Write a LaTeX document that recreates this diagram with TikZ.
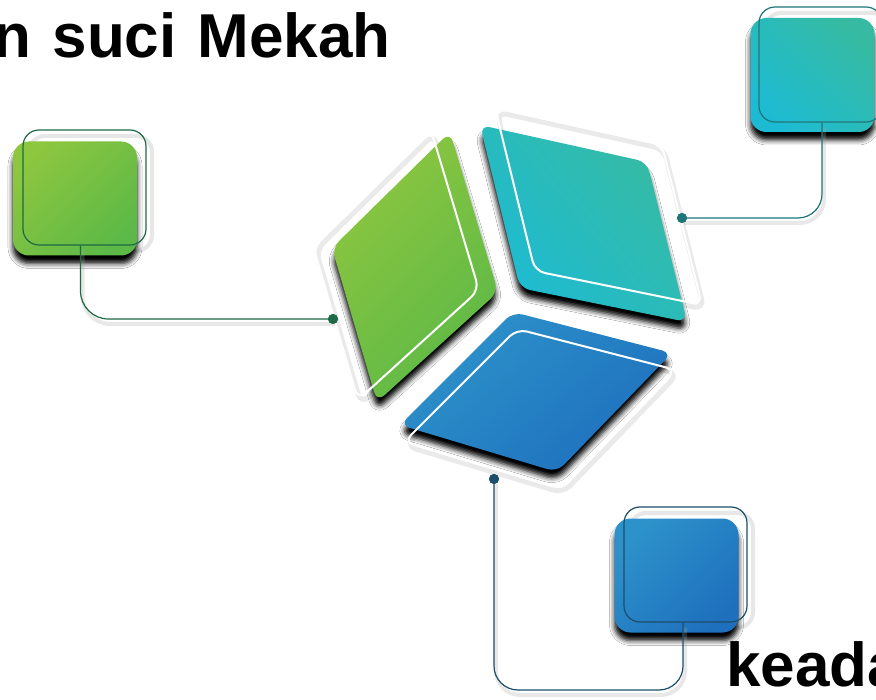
\documentclass[tikz,border=0pt]{standalone}
\usepackage{fontspec}
\setmainfont{Liberation Sans}
\usetikzlibrary{shadows.blur,calc}
\definecolor{greenA}{HTML}{8DC63F}
\definecolor{greenB}{HTML}{5DB947}
\definecolor{tealA}{HTML}{36BBA2}
\definecolor{tealB}{HTML}{1DBBD3}
\definecolor{blueA}{HTML}{2D92CA}
\definecolor{blueB}{HTML}{1E70BD}
\definecolor{gline}{HTML}{1D6A45}
\definecolor{tline}{HTML}{1E7679}
\definecolor{bline}{HTML}{1D4E6C}
\tikzset{
  tileshadow/.style={blur shadow={shadow xshift=0pt, shadow yshift=-8pt, shadow opacity=100, shadow blur radius=5pt}},
  rhomb/.style={rounded corners=10pt, tileshadow},
  glowline/.style={draw=black!40, line width=5pt, opacity=0.2, rounded corners=10pt},
  whiteline/.style={draw=white, line width=2pt, rounded corners=10pt},
  sqfill/.style={rectangle, rounded corners=16pt, minimum width=124pt, minimum height=114pt, inner sep=0pt, tileshadow},
  sqline/.style={rectangle, rounded corners=16pt, draw=#1, line width=1.2pt, minimum width=123pt, minimum height=115pt, inner sep=0pt},
  sqglow/.style={rectangle, rounded corners=16pt, draw=black!30, line width=4pt, opacity=0.3, minimum width=123pt, minimum height=115pt, inner sep=0pt},
  conn/.style={draw=#1, line width=1.2pt},
  connshadow/.style={draw=black!35, line width=4pt, opacity=0.25, transform canvas={xshift=2pt,yshift=-5pt}},
  dot/.style={circle, fill=#1, minimum size=10pt, inner sep=0pt},
  bigtext/.style={inner sep=0pt, font=\bfseries\fontsize{62}{62}\selectfont}
}
\begin{document}
\begin{tikzpicture}[x=1pt,y=-1pt]
\fill[white] (0,0) rectangle (876,700);
\useasboundingbox (0,0) rectangle (876,700);
\begin{scope}
\clip (0,0) rectangle (876,700);

% rhombus corner coordinates
\coordinate (G1) at (450,132); \coordinate (G2) at (332,248);
\coordinate (G3) at (377,402); \coordinate (G4) at (498,292);
\coordinate (T1) at (480,125); \coordinate (T2) at (647,162);
\coordinate (T3) at (687,322); \coordinate (T4) at (520,288);
\coordinate (B1) at (513,312); \coordinate (B2) at (672,353);
\coordinate (B3) at (557,472); \coordinate (B4) at (400,425);

% square nodes positions
\coordinate (gsqc) at (75,198.5);
\coordinate (goutc) at (84.5,187.5);
\coordinate (tsqc) at (812.5,75);
\coordinate (toutc) at (820.5,64.5);
\coordinate (bsqc) at (676.5,575.5);
\coordinate (boutc) at (685.5,564.5);

% glow of the white outlines
\draw[glowline, transform canvas={xshift=-16pt,yshift=-2pt}] (G1) -- (G2) -- (G3) -- (G4) -- cycle;
\draw[glowline, transform canvas={xshift=17pt,yshift=13pt}] (T1) -- (T2) -- (T3) -- (T4) -- cycle;
\draw[glowline, transform canvas={xshift=6pt,yshift=-21pt}] (B1) -- (B2) -- (B3) -- (B4) -- cycle;

% rhombi
\path[rhomb, left color=greenA, right color=greenB, shading angle=45] (G1) -- (G2) -- (G3) -- (G4) -- cycle;
\path[rhomb, left color=tealA, right color=tealB, shading angle=-50] (T1) -- (T2) -- (T3) -- (T4) -- cycle;
\path[rhomb, left color=blueA, right color=blueB, shading angle=40] (B1) -- (B2) -- (B3) -- (B4) -- cycle;

% white outlines
\draw[whiteline, transform canvas={xshift=-19pt,yshift=2pt}] (G1) -- (G2) -- (G3) -- (G4) -- cycle;
\draw[whiteline, transform canvas={xshift=15pt,yshift=17pt}] (T1) -- (T2) -- (T3) -- (T4) -- cycle;
\draw[whiteline, transform canvas={xshift=4pt,yshift=-17pt}] (B1) -- (B2) -- (B3) -- (B4) -- cycle;

% squares
\node[sqglow, transform canvas={xshift=3pt,yshift=-3pt}] at (goutc) {};
\node[sqglow, transform canvas={xshift=3pt,yshift=-3pt}] at (toutc) {};
\node[sqglow, transform canvas={xshift=3pt,yshift=-3pt}] at (boutc) {};
\node[sqfill, left color=greenA, right color=greenB, shading angle=45] (gsq) at (gsqc) {};
\node[sqfill, left color=tealA, right color=tealB, shading angle=-45] (tsq) at (tsqc) {};
\node[sqfill, left color=blueA, right color=blueB, shading angle=45] (bsq) at (bsqc) {};
\node[sqline=gline] (gout) at (goutc) {};
\node[sqline=tline] (tout) at (toutc) {};
\node[sqline=bline] (bout) at (boutc) {};

% dots and connector anchors
\node[dot=gline] (gdot) at (333,319) {};
\node[dot=tline] (tdot) at (682,218) {};
\node[dot=bline] (bdot) at (494,479) {};
\coordinate (gtop) at ([xshift=-4pt]gout.south);
\coordinate (ttop) at ([xshift=1.5pt]tout.south);
\coordinate (btop) at ([xshift=-2.5pt]bout.south);
\coordinate (bcorner) at (560,690);

% connector shadows
\draw[connshadow, rounded corners=28pt] (gtop) |- (gdot.center);
\draw[connshadow, rounded corners=24pt] (ttop) |- (tdot.center);
\draw[connshadow, rounded corners=24pt] (bdot.center) |- (bcorner) -| (btop);

% connectors
\draw[conn=gline, rounded corners=28pt] (gtop) |- (gdot.center);
\draw[conn=tline, rounded corners=24pt] (ttop) |- (tdot.center);
\draw[conn=bline, rounded corners=24pt] (bdot.center) |- (bcorner) -| (btop);
\node[dot=gline] at (gdot) {};
\node[dot=tline] at (tdot) {};
\node[dot=bline] at (bdot) {};

% texts
\node[bigtext, anchor=base east] (title) at (391,58) {n\hspace{4pt} suci\hspace{4pt} Mekah};
\node[bigtext, anchor=base west] (keada) at (726,686) {keada};
\end{scope}
\end{tikzpicture}
\end{document}
